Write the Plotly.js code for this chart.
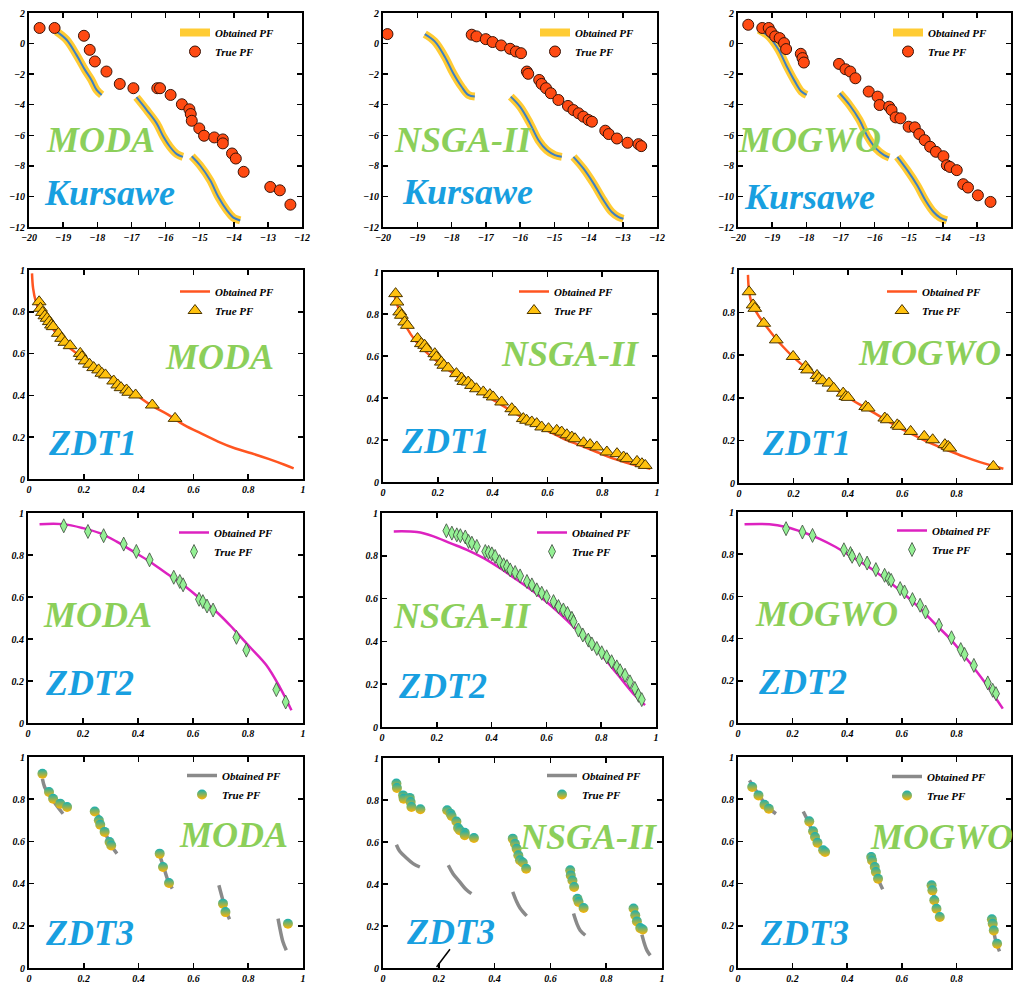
<!DOCTYPE html>
<html><head><meta charset="utf-8">
<script src="https://cdn.plot.ly/plotly-3.0.1.min.js"></script>
<style>html,body{margin:0;padding:0;background:#fff;}#chart{width:1013px;height:983px;}</style>
</head><body><div id="chart"></div>
<script>
// ================= DATA =================
// Row 1: Kursawe
const kurMODA_trueX = [-19.69,-19.25,-18.39,-18.22,-18.07,-17.73,-17.34,-16.94,-16.24,-16.16,-15.85,-15.52,-15.30,-15.26,-15.23,-15.01,-14.87,-14.57,-14.32,-14.32,-14.05,-13.94,-13.71,-12.93,-12.65,-12.34];
const kurMODA_trueY = [1.02,1.02,0.51,-0.41,-1.17,-1.83,-2.64,-2.92,-2.92,-2.92,-3.36,-3.97,-4.30,-4.61,-5.05,-5.55,-6.03,-6.14,-6.27,-6.53,-7.19,-7.52,-8.39,-9.38,-9.60,-10.54];
const kurMODA_obtX = [-19.20,-18.90,-18.61,-18.36,-18.17,-18.02,-17.87,null,-16.85,-16.55,-16.26,-16.06,-15.87,-15.67,-15.49,null,-15.23,-14.99,-14.69,-14.45,-14.20,-14.01,-13.81];
const kurMODA_obtY = [0.80,0.25,-0.74,-1.72,-2.38,-3.03,-3.36,null,-3.51,-4.35,-5.22,-6.10,-6.75,-7.23,-7.41,null,-7.37,-7.96,-8.94,-10.04,-10.91,-11.39,-11.57];

const kurNSGA_trueX = [-19.87,-17.41,-17.27,-17.00,-16.80,-16.55,-16.29,-16.12,-15.97,-15.80,-15.76,-15.44,-15.37,-15.24,-15.10,-14.88,-14.60,-14.44,-14.29,-14.15,-14.00,-13.90,-13.51,-13.41,-13.17,-12.86,-12.54,-12.46];
const kurNSGA_trueY = [0.62,0.58,0.47,0.29,0.10,-0.12,-0.34,-0.52,-0.63,-1.83,-1.98,-2.38,-2.64,-2.92,-3.25,-3.69,-4.08,-4.35,-4.56,-4.78,-5.00,-5.11,-5.70,-5.92,-6.21,-6.49,-6.58,-6.71];
const kurNSGA_obtX = [-18.78,-18.49,-18.20,-17.95,-17.71,-17.51,-17.32,null,-16.27,-16.00,-15.71,-15.46,-15.22,-14.98,-14.78,null,-14.44,-14.15,-13.85,-13.56,-13.32,-13.12,-12.98];
const kurNSGA_obtY = [0.62,0.14,-0.84,-1.94,-2.81,-3.36,-3.47,null,-3.47,-4.13,-5.22,-6.32,-6.97,-7.30,-7.41,null,-7.41,-8.17,-9.16,-10.25,-11.02,-11.35,-11.46];

const kurMOGWO_trueX = [-19.70,-19.29,-19.10,-19.03,-18.91,-18.78,-18.65,-18.59,-18.16,-18.11,-18.07,-17.04,-16.85,-16.71,-16.56,-16.17,-15.91,-15.85,-15.57,-15.50,-15.38,-15.24,-15.00,-14.82,-14.69,-14.53,-14.37,-14.20,-13.98,-13.88,-13.79,-13.59,-13.40,-13.26,-12.97,-12.60];
const kurMOGWO_trueY = [1.23,1.02,1.02,0.75,0.47,0.36,0.03,-0.36,-0.67,-0.95,-1.24,-1.33,-1.68,-1.83,-2.27,-3.14,-3.47,-4.02,-4.13,-4.35,-4.83,-4.89,-5.44,-5.48,-5.92,-6.32,-6.75,-7.08,-7.37,-7.96,-8.07,-8.28,-9.20,-9.42,-9.93,-10.36];
const kurMOGWO_obtX = [-19.39,-19.10,-18.81,-18.57,-18.33,-18.14,-17.99,null,-17.02,-16.73,-16.44,-16.20,-15.96,-15.72,-15.57,null,-15.33,-15.04,-14.75,-14.51,-14.27,-14.08,-13.88];
const kurMOGWO_obtY = [0.91,0.47,-0.41,-1.50,-2.49,-3.14,-3.36,null,-3.25,-4.02,-5.00,-6.10,-6.86,-7.30,-7.45,null,-7.41,-8.28,-9.27,-10.25,-11.02,-11.39,-11.57];

// Row 2: ZDT1
const zdt1MODA_obtX = [0.011,0.015,0.025,0.039,0.076,0.137,0.199,0.260,0.321,0.383,0.444,0.506,0.567,0.628,0.690,0.751,0.812,0.874,0.935,0.966];
const zdt1MODA_obtY = [0.984,0.912,0.848,0.801,0.737,0.641,0.577,0.514,0.466,0.410,0.354,0.309,0.258,0.218,0.179,0.147,0.123,0.096,0.067,0.051];
const zdt1MODA_trueX = [0.037,0.042,0.049,0.058,0.066,0.074,0.082,0.088,0.107,0.119,0.131,0.150,0.187,0.193,0.205,0.221,0.236,0.254,0.266,0.279,0.309,0.324,0.336,0.356,0.364,0.389,0.450,0.533];
const zdt1MODA_trueY = [0.848,0.817,0.797,0.781,0.769,0.753,0.737,0.729,0.697,0.673,0.654,0.638,0.601,0.585,0.565,0.549,0.533,0.522,0.506,0.498,0.469,0.450,0.437,0.426,0.415,0.402,0.354,0.290];

const zdt1NSGA_obtX = [0.043,0.061,0.085,0.122,0.171,0.232,0.293,0.354,0.415,0.476,0.537,0.598,0.659,0.720,0.780,0.841,0.902,0.976];
const zdt1NSGA_obtY = [0.881,0.810,0.738,0.667,0.603,0.540,0.484,0.429,0.381,0.333,0.286,0.246,0.206,0.175,0.143,0.111,0.087,0.063];
const zdt1NSGA_trueX = [0.046,0.051,0.061,0.067,0.079,0.089,0.126,0.140,0.152,0.159,0.189,0.195,0.213,0.222,0.238,0.268,0.287,0.295,0.311,0.323,0.341,0.366,0.390,0.402,0.433,0.470,0.482,0.512,0.524,0.543,0.561,0.579,0.604,0.634,0.652,0.671,0.689,0.701,0.732,0.756,0.780,0.817,0.854,0.878,0.890,0.927,0.945,0.957];
const zdt1NSGA_trueY = [0.897,0.857,0.810,0.794,0.762,0.746,0.683,0.659,0.651,0.635,0.611,0.595,0.571,0.556,0.543,0.516,0.495,0.479,0.476,0.460,0.444,0.429,0.416,0.405,0.381,0.349,0.333,0.302,0.294,0.286,0.278,0.262,0.254,0.246,0.238,0.225,0.214,0.206,0.187,0.178,0.167,0.143,0.135,0.119,0.111,0.098,0.087,0.079];

const zdt1MOGWO_obtX = [0.033,0.036,0.045,0.070,0.101,0.150,0.211,0.272,0.334,0.395,0.456,0.518,0.579,0.640,0.702,0.763,0.825,0.886,0.972];
const zdt1MOGWO_obtY = [0.977,0.914,0.852,0.789,0.734,0.656,0.578,0.516,0.461,0.406,0.359,0.313,0.266,0.227,0.188,0.156,0.125,0.098,0.067];
const zdt1MOGWO_trueX = [0.037,0.052,0.058,0.091,0.137,0.199,0.245,0.252,0.287,0.294,0.307,0.331,0.348,0.383,0.393,0.401,0.466,0.475,0.536,0.545,0.582,0.589,0.631,0.681,0.712,0.757,0.769,0.775,0.935];
const zdt1MOGWO_trueY = [0.898,0.836,0.820,0.750,0.672,0.594,0.547,0.531,0.505,0.492,0.480,0.469,0.445,0.422,0.406,0.402,0.359,0.352,0.305,0.297,0.273,0.266,0.242,0.219,0.203,0.180,0.172,0.164,0.078];

// Row 3: ZDT2
const zdt2MODA_obtX = [0.042,0.127,0.200,0.261,0.321,0.382,0.442,0.503,0.564,0.624,0.685,0.745,0.806,0.867,0.915,0.958];
const zdt2MODA_obtY = [0.947,0.947,0.928,0.904,0.865,0.817,0.769,0.713,0.658,0.594,0.530,0.451,0.363,0.275,0.172,0.061];
const zdt2MODA_trueX = [0.130,0.218,0.275,0.348,0.394,0.442,0.530,0.552,0.564,0.622,0.636,0.651,0.673,0.758,0.794,0.903,0.937];
const zdt2MODA_trueY = [0.939,0.912,0.892,0.852,0.817,0.777,0.694,0.674,0.658,0.589,0.578,0.557,0.538,0.408,0.347,0.159,0.100];

const zdt2NSGA_obtX = [0.043,0.128,0.188,0.249,0.310,0.371,0.431,0.492,0.553,0.614,0.674,0.735,0.796,0.857,0.917,0.960];
const zdt2NSGA_obtY = [0.914,0.911,0.891,0.859,0.828,0.789,0.742,0.688,0.633,0.570,0.500,0.422,0.344,0.250,0.156,0.102];
const zdt2NSGA_trueX = [0.235,0.255,0.273,0.286,0.304,0.316,0.328,0.346,0.377,0.389,0.401,0.413,0.429,0.444,0.456,0.468,0.486,0.504,0.529,0.547,0.565,0.583,0.601,0.626,0.644,0.662,0.677,0.693,0.699,0.717,0.733,0.753,0.766,0.784,0.802,0.820,0.838,0.857,0.869,0.887,0.905,0.923,0.936,0.948];
const zdt2NSGA_trueY = [0.917,0.906,0.898,0.894,0.888,0.867,0.859,0.844,0.820,0.816,0.809,0.797,0.773,0.758,0.750,0.734,0.722,0.706,0.680,0.664,0.641,0.625,0.609,0.586,0.563,0.547,0.531,0.508,0.492,0.453,0.430,0.406,0.388,0.367,0.347,0.328,0.305,0.281,0.263,0.242,0.211,0.180,0.148,0.128];

const zdt2MOGWO_obtX = [0.024,0.115,0.176,0.236,0.297,0.358,0.418,0.479,0.539,0.600,0.661,0.721,0.782,0.842,0.903,0.970];
const zdt2MOGWO_obtY = [0.942,0.942,0.929,0.905,0.874,0.834,0.787,0.739,0.684,0.621,0.550,0.471,0.392,0.297,0.194,0.068];
const zdt2MOGWO_trueX = [0.176,0.236,0.273,0.388,0.412,0.418,0.445,0.473,0.505,0.537,0.552,0.561,0.594,0.610,0.639,0.667,0.687,0.736,0.782,0.816,0.830,0.864,0.915,0.933,0.945];
const zdt2MOGWO_trueY = [0.921,0.905,0.889,0.821,0.803,0.790,0.774,0.758,0.727,0.700,0.684,0.676,0.637,0.621,0.585,0.558,0.526,0.463,0.404,0.348,0.325,0.273,0.190,0.155,0.139];

// Row 4: ZDT3
const zdt3MODA_obtX = [0.049,0.057,0.075,0.100,0.124,null,0.246,0.264,0.282,0.300,0.321,null,0.477,0.495,0.507,0.523,null,0.693,0.706,0.718,0.732,null,0.909,0.917,0.927,0.939];
const zdt3MODA_obtY = [0.897,0.858,0.818,0.771,0.731,null,0.739,0.692,0.629,0.581,0.542,null,0.534,0.463,0.415,0.376,null,0.392,0.329,0.273,0.231,null,0.234,0.179,0.123,0.084];
const zdt3MODA_trueX = [0.049,0.073,0.088,0.114,0.139,0.240,0.255,0.260,0.276,0.294,0.300,0.477,0.489,0.511,0.708,0.717,0.945];
const zdt3MODA_trueY = [0.921,0.834,0.802,0.779,0.763,0.742,0.700,0.679,0.645,0.597,0.581,0.542,0.479,0.403,0.305,0.265,0.210];

const zdt3NSGA_obtX = [0.048,0.060,0.084,0.108,0.132,null,0.234,0.251,0.275,0.297,0.317,null,0.465,0.477,0.491,0.515,null,0.683,0.695,0.707,0.725,null,0.928,0.937,0.946,0.958];
const zdt3NSGA_obtY = [0.587,0.556,0.524,0.497,0.481,null,0.489,0.449,0.410,0.375,0.354,null,0.362,0.322,0.286,0.248,null,0.259,0.211,0.179,0.156,null,0.159,0.116,0.084,0.060];
const zdt3NSGA_trueX = [0.048,0.050,0.072,0.074,0.096,0.099,0.102,0.134,0.230,0.242,0.246,0.263,0.269,0.275,0.293,0.293,0.326,0.465,0.473,0.479,0.485,0.491,0.501,0.513,0.671,0.673,0.679,0.685,0.697,0.701,0.719,0.898,0.904,0.910,0.922,0.931];
const zdt3NSGA_trueY = [0.878,0.857,0.822,0.806,0.810,0.790,0.767,0.756,0.751,0.735,0.724,0.698,0.667,0.656,0.644,0.632,0.619,0.616,0.592,0.568,0.537,0.513,0.502,0.473,0.465,0.441,0.417,0.386,0.330,0.314,0.286,0.283,0.251,0.222,0.190,0.183];

const zdt3MOGWO_obtX = [0.042,0.061,0.085,0.109,0.139,null,0.239,0.255,0.273,0.297,0.321,null,0.485,0.497,0.513,0.530,null,0.707,0.719,0.731,0.745,null,0.927,0.937,0.945,0.958];
const zdt3MOGWO_obtY = [0.889,0.850,0.803,0.763,0.731,null,0.742,0.700,0.645,0.581,0.534,null,0.547,0.487,0.423,0.373,null,0.404,0.336,0.273,0.226,null,0.234,0.171,0.123,0.079];
const zdt3MOGWO_trueX = [0.052,0.075,0.097,0.113,0.261,0.275,0.282,0.291,0.312,0.319,0.488,0.491,0.501,0.505,0.513,0.709,0.712,0.719,0.727,0.739,0.930,0.933,0.937,0.949];
const zdt3MOGWO_trueY = [0.858,0.818,0.774,0.755,0.695,0.648,0.621,0.594,0.558,0.550,0.526,0.510,0.479,0.455,0.423,0.392,0.368,0.321,0.281,0.242,0.231,0.210,0.178,0.115];

// Labels
const algoNames = ['MODA','NSGA-II','MOGWO'];
const problemNames = ['Kursawe','ZDT1','ZDT2','ZDT3'];
const legendNames = ['Obtained PF','True PF'];
const kurTicksX = [-20,-19,-18,-17,-16,-15,-14,-13,-12];
const kurTicksY = [2,0,-2,-4,-6,-8,-10,-12];
const zdtTicks = [0,0.2,0.4,0.6,0.8,1];

// ================= LAYOUT CONFIG =================
const W = 1013, H = 983;
const FAM = 'Liberation Serif, Times New Roman, serif';
const GREEN = '#8ccf5a', BLUE = '#189fe0';

const seriesByPanel = [
  [kurMODA_obtX,kurMODA_obtY,kurMODA_trueX,kurMODA_trueY],
  [kurNSGA_obtX,kurNSGA_obtY,kurNSGA_trueX,kurNSGA_trueY],
  [kurMOGWO_obtX,kurMOGWO_obtY,kurMOGWO_trueX,kurMOGWO_trueY],
  [zdt1MODA_obtX,zdt1MODA_obtY,zdt1MODA_trueX,zdt1MODA_trueY],
  [zdt1NSGA_obtX,zdt1NSGA_obtY,zdt1NSGA_trueX,zdt1NSGA_trueY],
  [zdt1MOGWO_obtX,zdt1MOGWO_obtY,zdt1MOGWO_trueX,zdt1MOGWO_trueY],
  [zdt2MODA_obtX,zdt2MODA_obtY,zdt2MODA_trueX,zdt2MODA_trueY],
  [zdt2NSGA_obtX,zdt2NSGA_obtY,zdt2NSGA_trueX,zdt2NSGA_trueY],
  [zdt2MOGWO_obtX,zdt2MOGWO_obtY,zdt2MOGWO_trueX,zdt2MOGWO_trueY],
  [zdt3MODA_obtX,zdt3MODA_obtY,zdt3MODA_trueX,zdt3MODA_trueY],
  [zdt3NSGA_obtX,zdt3NSGA_obtY,zdt3NSGA_trueX,zdt3NSGA_trueY],
  [zdt3MOGWO_obtX,zdt3MOGWO_obtY,zdt3MOGWO_trueX,zdt3MOGWO_trueY]
];

// pixel geometry: box [left,right,top,bottom], legend swatch centre, algo label centre, problem label centre
const geom = [
  {box:[29,302,13,227],  leg:[200,33], al:[100,140], pr:[109,193]},
  {box:[383,657,13,227], leg:[560,33], al:[463,140], pr:[467,192]},
  {box:[738,1011,13,227],leg:[913,33], al:[809,140], pr:[809,197]},
  {box:[29,303,270,479], leg:[200,292], al:[219,357], pr:[92,443]},
  {box:[383,657,272,482],leg:[539,292], al:[570,354], pr:[445,441]},
  {box:[739,1011,270,483],leg:[907,292], al:[929,353], pr:[806,443]},
  {box:[28,303,513,723], leg:[199,533], al:[97,615], pr:[89,683]},
  {box:[382,656,513,727],leg:[557,533], al:[462,616], pr:[442,686]},
  {box:[738,1011,512,723],leg:[917,531], al:[826,614], pr:[802,682]},
  {box:[29,303,757,968], leg:[207,776], al:[233,835], pr:[89,933]},
  {box:[383,662,758,968],leg:[567,776], al:[588,837], pr:[450,932]},
  {box:[738,1011,757,968],leg:[912,777], al:[941,837], pr:[804,933]}
];

const traces = [];
const layout = {
  width: W, height: H,
  margin: {l:0, r:0, t:0, b:0},
  paper_bgcolor: '#fff', plot_bgcolor: '#fff',
  showlegend: true,
  annotations: [], shapes: []
};

const tickFont = {family: FAM, size: 10, weight: 'bold', style: 'italic', color: '#000'};

seriesByPanel.forEach((s, i) => {
  const g = geom[i];
  const row = Math.floor(i / 3), col = i % 3;
  const n = i + 1;
  const xa = n === 1 ? 'x' : 'x' + n, ya = n === 1 ? 'y' : 'y' + n;
  const legId = n === 1 ? 'legend' : 'legend' + n;
  const isKur = row === 0;
  const axBase = {
    showgrid: false, zeroline: false, showline: true, linecolor: '#000', linewidth: 2,
    mirror: 'ticks', ticks: 'inside', ticklen: 5, tickwidth: 1.5, tickcolor: '#000',
    tickfont: tickFont, fixedrange: true
  };
  layout['xaxis' + (n === 1 ? '' : n)] = Object.assign({}, axBase, {
    domain: [g.box[0] / W, g.box[1] / W], anchor: ya,
    range: isKur ? [kurTicksX[0], kurTicksX[kurTicksX.length - 1]] : [zdtTicks[0], zdtTicks[zdtTicks.length - 1]],
    tickmode: 'array', tickvals: isKur ? kurTicksX : zdtTicks
  });
  layout['yaxis' + (n === 1 ? '' : n)] = Object.assign({}, axBase, {
    domain: [1 - g.box[3] / H, 1 - g.box[2] / H], anchor: xa,
    range: isKur ? [kurTicksY[kurTicksY.length - 1], kurTicksY[0]] : [zdtTicks[0], zdtTicks[zdtTicks.length - 1]],
    tickmode: 'array', tickvals: isKur ? kurTicksY : zdtTicks
  });
  layout[legId] = {
    x: (g.leg[0] - 25) / W, y: 1 - (g.leg[1] - 15) / H, xanchor: 'left', yanchor: 'top',
    bgcolor: 'rgba(0,0,0,0)', borderwidth: 0,
    font: {family: FAM, size: 11, weight: 'bold', style: 'italic', color: '#000'},
    tracegroupgap: 0
  };

  // Obtained PF
  if (isKur) {
    traces.push({x: s[0], y: s[1], xaxis: xa, yaxis: ya, legend: legId, type: 'scatter', mode: 'lines',
      name: legendNames[0], line: {color: '#ffc61e', width: 8, shape: 'spline'}, opacity: 0.9});
    traces.push({x: s[0], y: s[1], xaxis: xa, yaxis: ya, legend: legId, type: 'scatter', mode: 'lines',
      showlegend: false, line: {color: '#3d7fc4', width: 2, shape: 'spline'}});
  } else {
    const lc = row === 1 ? '#ff5520' : row === 2 ? '#dd22c0' : '#8a8a8a';
    const lw = row === 3 ? 3.5 : 2.5;
    traces.push({x: s[0], y: s[1], xaxis: xa, yaxis: ya, legend: legId, type: 'scatter', mode: 'lines',
      name: legendNames[0], line: {color: lc, width: lw, shape: 'spline'}});
  }
  // True PF
  let marker;
  if (row === 0) marker = {symbol: 'circle', size: 11, color: '#ff4a12', line: {color: '#3a1408', width: 1}};
  else if (row === 1) marker = {symbol: 'triangle-up', size: 12, color: '#ffc10e', line: {color: '#4a3400', width: 1}};
  else if (row === 2) marker = {symbol: 'diamond-tall', size: 10, color: '#94f094', line: {color: '#3c4a3c', width: 0.8}};
  else marker = {symbol: 'circle', size: 10, color: '#16b0b4', gradient: {type: 'vertical', color: '#ffb400'}, line: {width: 0}};
  traces.push({x: s[2], y: s[3], xaxis: xa, yaxis: ya, legend: legId, type: 'scatter', mode: 'markers',
    name: legendNames[1], marker: marker});

  const bigFont = (c) => ({family: FAM, size: 36, weight: 'bold', style: 'italic', color: c});
  layout.annotations.push({xref: 'paper', yref: 'paper', x: g.al[0] / W, y: 1 - g.al[1] / H,
    xanchor: 'center', yanchor: 'middle', text: algoNames[col], showarrow: false, font: bigFont(GREEN)});
  layout.annotations.push({xref: 'paper', yref: 'paper', x: g.pr[0] / W, y: 1 - g.pr[1] / H,
    xanchor: 'center', yanchor: 'middle', text: problemNames[row], showarrow: false, font: bigFont(BLUE)});
});

// stray stroke in NSGA-II / ZDT3 panel
layout.shapes.push({type: 'line', xref: 'x11', yref: 'y11', x0: 0.192, y0: 0.005, x1: 0.240, y1: 0.089,
  line: {color: '#000', width: 1.5}});

Plotly.newPlot('chart', traces, layout, {staticPlot: true, displayModeBar: false});
</script>
</body></html>
